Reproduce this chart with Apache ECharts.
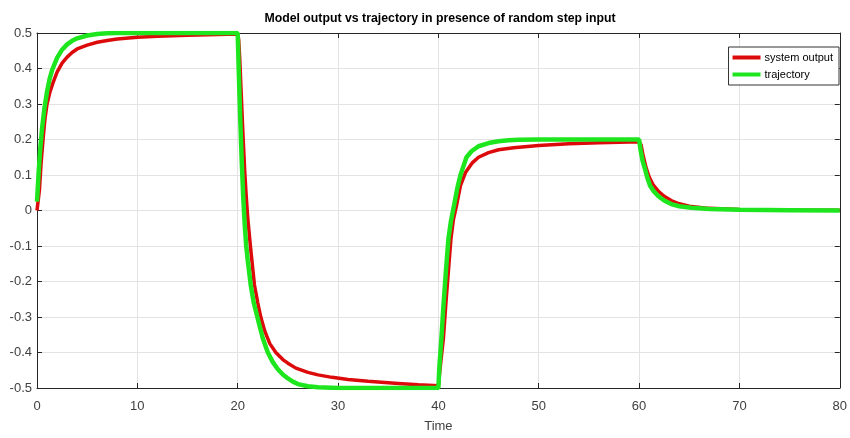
<!DOCTYPE html>
<html>
<head>
<meta charset="utf-8">
<script src="https://cdn.jsdelivr.net/npm/echarts@6/dist/echarts.min.js"></script>
<style>html,body{margin:0;padding:0;background:#fff}#c{width:850px;height:438px}</style>
</head>
<body>
<div id="c"></div>
<script>
const titleText = 'Model output vs trajectory in presence of random step input';
const xLabel = 'Time';
const seriesNames = ['system output', 'trajectory'];
const xTicks = [0, 10, 20, 30, 40, 50, 60, 70, 80];
const yTicks = [-0.5, -0.4, -0.3, -0.2, -0.1, 0, 0.1, 0.2, 0.3, 0.4, 0.5];

// system output (red)
const outTime = [0, 0.1, 0.25, 0.4, 0.6, 0.8, 1, 1.3, 1.6, 2, 2.5, 3, 3.5, 4, 5, 6, 7, 8, 10, 12, 15, 18, 20,
  20.1, 20.2, 20.35, 20.5, 20.7, 20.85, 21, 21.3, 21.67, 22, 22.3, 22.7, 23.2, 23.8, 24.5, 25, 25.8, 27, 28, 29.4, 31, 33, 36, 38, 40,
  40.15, 40.5, 40.75, 41, 41.25, 41.5, 41.8, 42.2, 42.7, 43.4, 44, 45, 46, 47.5, 50, 53, 56, 60,
  60.2, 60.4, 60.7, 61, 61.4, 61.9, 62.5, 63.2, 64, 65, 67, 70, 75, 80];
const outValue = [0, 0.0, 0.06, 0.13, 0.2, 0.26, 0.30, 0.335, 0.36, 0.39, 0.415, 0.432, 0.445, 0.455, 0.466, 0.474, 0.479, 0.483, 0.488, 0.491, 0.494, 0.496, 0.497,
  0.48, 0.43, 0.33, 0.23, 0.11, 0.04, -0.02, -0.11, -0.21, -0.26, -0.30, -0.34, -0.375, -0.40, -0.42, -0.43, -0.444, -0.456, -0.463, -0.47, -0.476, -0.481, -0.487, -0.491, -0.494,
  -0.45, -0.36, -0.26, -0.17, -0.08, -0.025, 0.013, 0.07, 0.107, 0.135, 0.15, 0.163, 0.171, 0.177, 0.183, 0.188, 0.191, 0.194,
  0.185, 0.155, 0.12, 0.095, 0.072, 0.055, 0.04, 0.028, 0.019, 0.012, 0.006, 0.003, 0.001, 0.0005];

// trajectory (green)
const trajTime = [0, 0.15, 0.3, 0.5, 0.75, 1, 1.25, 1.5, 2, 2.5, 3, 3.5, 4, 5, 6, 7, 8, 20,
  20.1, 20.25, 20.4, 20.55, 20.7, 20.85, 21, 21.3, 21.6, 22, 22.5, 23, 23.5, 24, 24.5, 25, 25.5, 26, 27, 28, 30, 40,
  40.1, 40.3, 40.5, 40.75, 41, 41.25, 41.55, 41.9, 42.2, 42.5, 42.8, 43.3, 44, 45, 46, 47, 48, 50, 60,
  60.15, 60.35, 60.6, 60.85, 61.1, 61.5, 61.9, 62.5, 63.2, 64, 65.2, 67, 70, 75, 80];
const trajValue = [0.025, 0.1, 0.165, 0.23, 0.29, 0.335, 0.37, 0.395, 0.43, 0.453, 0.468, 0.478, 0.485, 0.493, 0.497, 0.499, 0.5, 0.5,
  0.40, 0.26, 0.14, 0.04, -0.04, -0.10, -0.14, -0.21, -0.26, -0.305, -0.36, -0.40, -0.427, -0.447, -0.462, -0.473, -0.482, -0.489, -0.495, -0.498, -0.5, -0.5,
  -0.44, -0.36, -0.27, -0.17, -0.08, -0.03, 0.013, 0.065, 0.1, 0.125, 0.15, 0.167, 0.181, 0.19, 0.195, 0.198, 0.199, 0.2, 0.2,
  0.17, 0.14, 0.116, 0.09, 0.07, 0.053, 0.041, 0.028, 0.018, 0.012, 0.008, 0.004, 0.002, 0.001, 0];

const font = '"Liberation Sans", Arial, sans-serif';
const axisColor = '#262626';
const labelColor = '#404040';
const gridColor = '#e3e3e3';

const outData = outTime.map((t, i) => [t, outValue[i]]);
const trajData = trajTime.map((t, i) => [t, trajValue[i]]);

const fmtY = v => {
  const r = Math.round(v * 10) / 10;
  return r === 0 ? '0' : String(r);
};

const chart = echarts.init(document.getElementById('c'), null, { renderer: 'canvas' });
chart.setOption({
  animation: false,
  backgroundColor: '#ffffff',
  title: {
    text: titleText,
    left: 440, top: 13, textAlign: 'center', padding: 0,
    textStyle: { fontFamily: font, fontSize: 12.3, fontWeight: 'bold', color: '#000' }
  },
  legend: {
    data: seriesNames,
    orient: 'vertical',
    right: 11, top: 47,
    backgroundColor: '#fff',
    borderColor: '#333', borderWidth: 1, borderRadius: 0,
    padding: [5, 6, 5, 4],
    itemGap: 6, itemWidth: 28, itemHeight: 4,
    icon: 'rect',
    textStyle: { fontFamily: font, fontSize: 11, color: '#000', padding: [0, 0, 0, -1] }
  },
  grid: { left: 37, right: 8, top: 33, bottom: 48, containLabel: false },
  xAxis: [{
    type: 'value', min: 0, max: 80, interval: 10,
    name: xLabel, nameLocation: 'middle', nameGap: 32,
    nameTextStyle: { fontFamily: font, fontSize: 13, color: labelColor },
    axisLine: { show: true, onZero: false, lineStyle: { color: axisColor, width: 1 } },
    axisTick: { show: true, inside: true, length: 5, lineStyle: { color: axisColor } },
    axisLabel: { fontFamily: font, fontSize: 13, color: labelColor, margin: 12 },
    splitLine: { show: true, lineStyle: { color: gridColor, width: 1 } }
  }, {
    type: 'value', min: 0, max: 80, interval: 10, position: 'top',
    axisLine: { show: true, onZero: false, lineStyle: { color: axisColor, width: 1 } },
    axisTick: { show: true, inside: true, length: 5, lineStyle: { color: axisColor } },
    axisLabel: { show: false }, splitLine: { show: false }
  }],
  yAxis: [{
    type: 'value', min: -0.5, max: 0.5, interval: 0.1,
    axisLine: { show: true, onZero: false, lineStyle: { color: axisColor, width: 1 } },
    axisTick: { show: true, inside: true, length: 5, lineStyle: { color: axisColor } },
    axisLabel: { fontFamily: font, fontSize: 13, color: labelColor, margin: 5, formatter: fmtY },
    splitLine: { show: true, lineStyle: { color: gridColor, width: 1 } }
  }, {
    type: 'value', min: -0.5, max: 0.5, interval: 0.1, position: 'right',
    axisLine: { show: true, onZero: false, lineStyle: { color: axisColor, width: 1 } },
    axisTick: { show: true, inside: true, length: 5, lineStyle: { color: axisColor } },
    axisLabel: { show: false }, splitLine: { show: false }
  }],
  series: [{
    name: seriesNames[0], type: 'line', data: outData, showSymbol: false, symbol: 'none',
    z: 2, lineStyle: { color: '#dc0a0a', width: 3.5 }, itemStyle: { color: '#dc0a0a' }
  }, {
    name: seriesNames[1], type: 'line', data: trajData, showSymbol: false, symbol: 'none',
    z: 3, lineStyle: { color: '#1ee61e', width: 4.5 }, itemStyle: { color: '#1ee61e' }
  }]
});
</script>
</body>
</html>
